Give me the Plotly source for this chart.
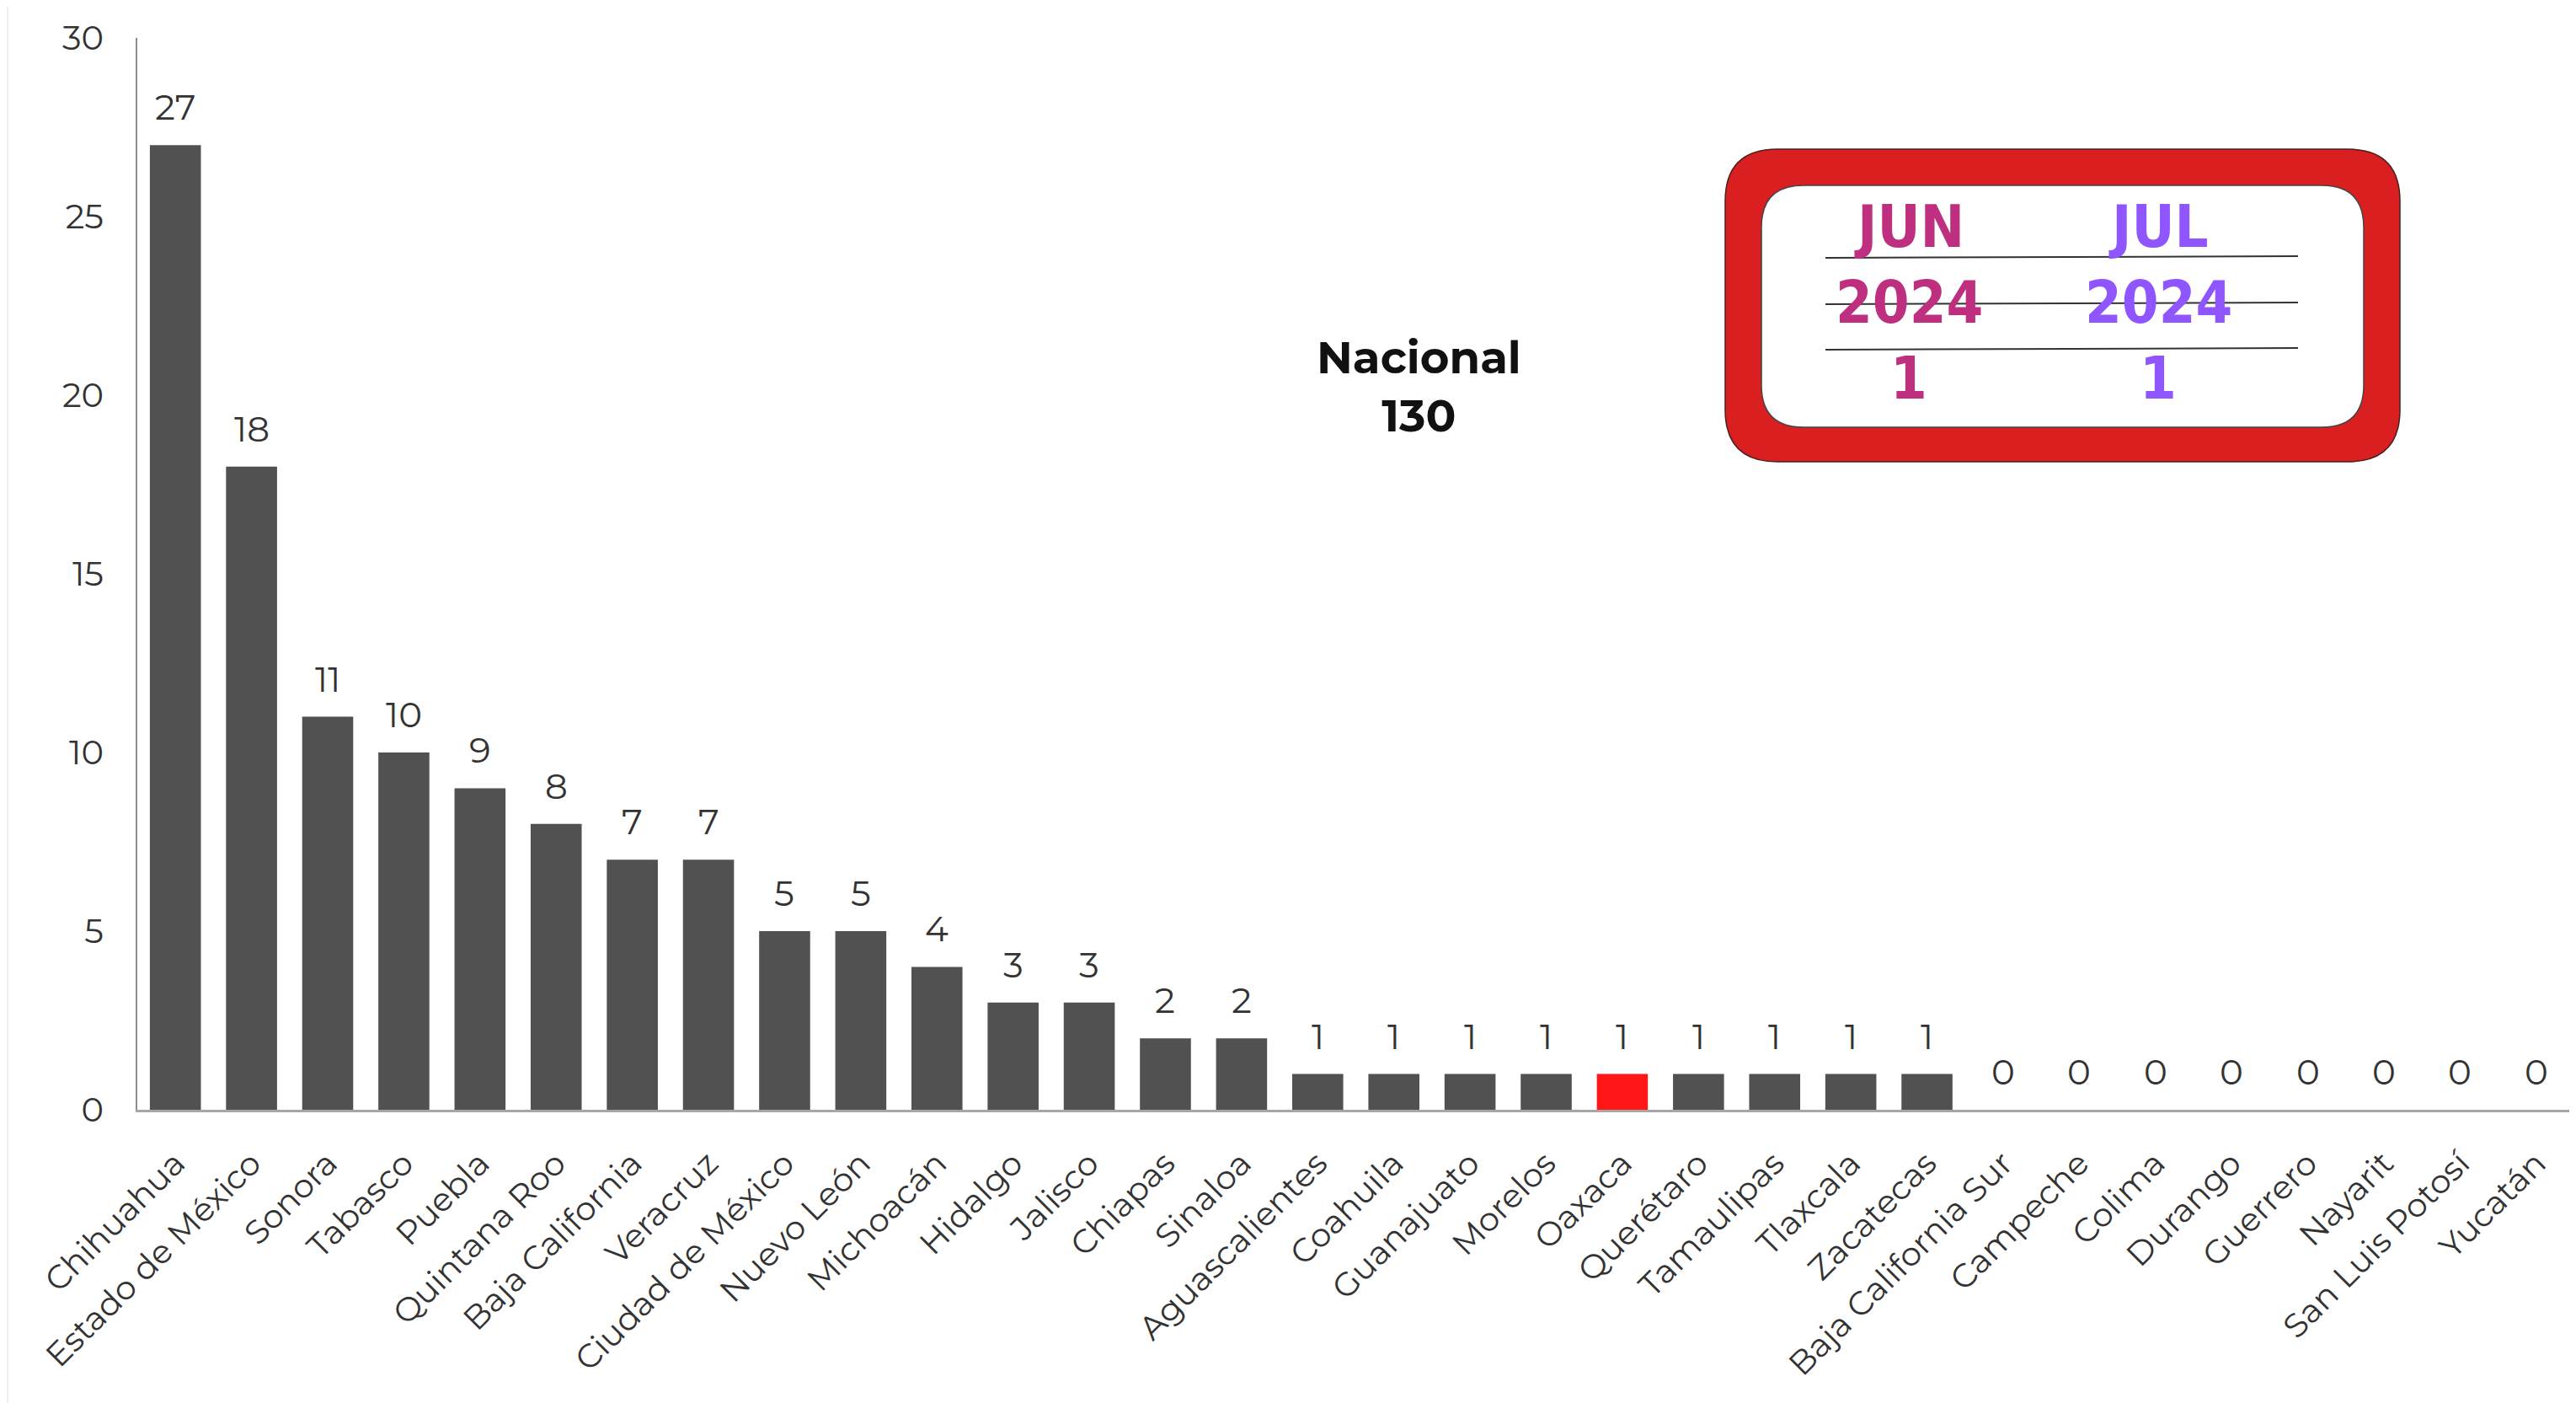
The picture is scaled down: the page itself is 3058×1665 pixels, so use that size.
import plotly.graph_objects as go

estados = ["Chihuahua", "Estado de México", "Sonora", "Tabasco", "Puebla",
           "Quintana Roo", "Baja California", "Veracruz", "Ciudad de México",
           "Nuevo León", "Michoacán", "Hidalgo", "Jalisco", "Chiapas", "Sinaloa",
           "Aguascalientes", "Coahuila", "Guanajuato", "Morelos", "Oaxaca",
           "Querétaro", "Tamaulipas", "Tlaxcala", "Zacatecas",
           "Baja California Sur", "Campeche", "Colima", "Durango", "Guerrero",
           "Nayarit", "San Luis Potosí", "Yucatán"]
casos = [27, 18, 11, 10, 9, 8, 7, 7, 5, 5, 4, 3, 3, 2, 2,
         1, 1, 1, 1, 1, 1, 1, 1, 1,
         0, 0, 0, 0, 0, 0, 0, 0]
destacado = "Oaxaca"
total_nacional = 130

meses = ["JUN", "JUL"]
anios = ["2024", "2024"]
valores_estado = [1, 1]
colores_mes = ["#bf2f7f", "#8f55ff"]

W, H = 3058, 1665
OFF = 8  # page body margin
# plot area in page pixels
PL, PT, PR, PB = 163, 45, 3056, 1317
pw, ph = PR - PL, PB - PT

def px(x, y):
    return (x - PL) / pw, (PB - y) / ph

def rounded(x0, y0, x1, y1, r):
    def p(x, y):
        a, b = px(x, y)
        return f"{a:.5f},{b:.5f}"
    pts = ["M" + p(x0 + r, y0),
           "L" + p(x1 - r, y0),
           "Q" + p(x1, y0) + " " + p(x1, y0 + r),
           "L" + p(x1, y1 - r),
           "Q" + p(x1, y1) + " " + p(x1 - r, y1),
           "L" + p(x0 + r, y1),
           "Q" + p(x0, y1) + " " + p(x0, y1 - r),
           "L" + p(x0, y0 + r),
           "Q" + p(x0, y0) + " " + p(x0 + r, y0)]
    return " ".join(pts) + " Z"

colores = ["#ff1717" if e == destacado else "#515151" for e in estados]

fig = go.Figure()
fig.add_trace(go.Bar(
    x=estados, y=casos,
    marker=dict(color=colores, line=dict(width=0)),
    width=0.67,
    hoverinfo="x+y",
))

font_main = "Montserrat, Open Sans, DejaVu Sans, sans-serif"

for e, v in zip(estados, casos):
    fig.add_annotation(x=e, y=v, text=str(v), showarrow=False,
                       yshift=45, yanchor="middle",
                       font=dict(size=42, color="#333333", family=font_main))

fig.add_annotation(xref="paper", yref="paper", x=px(1684, 0)[0], y=px(0, 458)[1],
                   xanchor="center", yanchor="middle",
                   text=f"<b>Nacional</b><br><b>{total_nacional}</b>",
                   showarrow=False, align="center",
                   font=dict(size=53, color="#111111", family=font_main))

shapes = []
# paper frame
a0, b0 = px(10, H + 20)
a1, b1 = px(W + 20, 6)
shapes.append(dict(type="rect", xref="paper", yref="paper", layer="below",
                   x0=a0, x1=a1, y0=b0, y1=b1,
                   fillcolor="white", line=dict(width=0)))
# red box
shapes.append(dict(type="path", xref="paper", yref="paper",
                   path=rounded(2048, 177, 2849, 548, 62),
                   fillcolor="#d91f20", line=dict(color="#4a2020", width=1.5)))
shapes.append(dict(type="path", xref="paper", yref="paper",
                   path=rounded(2091, 220, 2806, 507, 50),
                   fillcolor="white", line=dict(color="#444444", width=1.5)))
for yy in [306, 361, 415]:
    a, b = px(2167, yy)
    c, d = px(2728, yy - 2)
    shapes.append(dict(type="line", xref="paper", yref="paper",
                       x0=a, y0=b, x1=c, y1=d,
                       line=dict(color="#333333", width=2)))

box_font = "Liberation Sans Narrow, DejaVu Sans Condensed, sans-serif"
for i, (m, a, v, c) in enumerate(zip(meses, anios, valores_estado, colores_mes)):
    cx = [2266, 2562][i]
    for txt, yy in [(m, 269), (a, 359), (str(v), 449)]:
        fig.add_annotation(xref="paper", yref="paper",
                           x=px(cx, 0)[0], y=px(0, yy)[1],
                           text=f"<b>{txt}</b>", showarrow=False,
                           xanchor="center", yanchor="middle",
                           font=dict(size=70, color=c, family=box_font))

fig.update_layout(
    width=W, height=H,
    margin=dict(l=PL - OFF, r=W - (PR - OFF), t=PT - OFF, b=H - (PB - OFF)),
    paper_bgcolor="#f2efeb",
    plot_bgcolor="white",
    shapes=shapes,
    showlegend=False,
    bargap=0.33,
    font=dict(family=font_main, color="#333333"),
)
fig.update_xaxes(
    tickangle=-45,
    tickfont=dict(size=39, color="#333333", family=font_main),
    showline=True, linecolor="#a6a6a6", linewidth=3,
    ticks="outside", ticklen=22, tickcolor="rgba(0,0,0,0)",
    showgrid=False,
)
fig.update_yaxes(
    range=[0, 30], dtick=5, tick0=0,
    tickfont=dict(size=40, color="#333333", family=font_main),
    showline=True, linecolor="#8c8c8c", linewidth=2,
    ticks="outside", ticklen=30, tickcolor="rgba(0,0,0,0)",
    showgrid=False, zeroline=False,
)

fig.write_html("out.html")
